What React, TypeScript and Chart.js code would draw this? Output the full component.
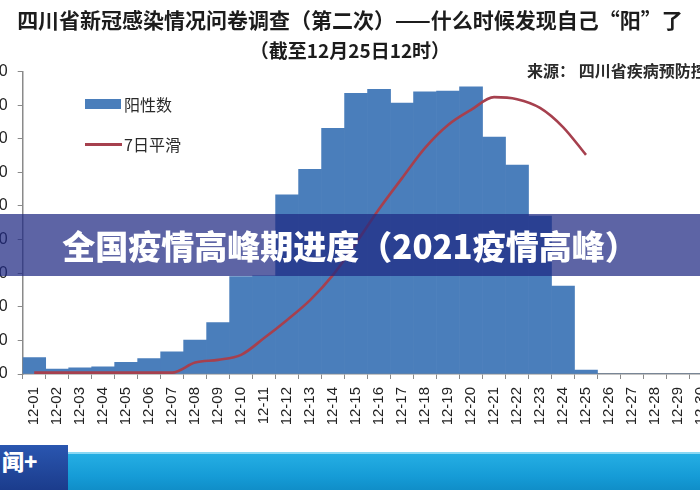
import React, { useEffect, useRef } from "react";
import { Chart, registerables } from "chart.js";

Chart.register(...registerables);

const categories = [
  "12-01", "12-02", "12-03", "12-04", "12-05", "12-06", "12-07", "12-08", "12-09", "12-10",
  "12-11", "12-12", "12-13", "12-14", "12-15", "12-16", "12-17", "12-18", "12-19", "12-20",
  "12-21", "12-22", "12-23", "12-24", "12-25", "12-26", "12-27", "12-28", "12-29", "12-30",
];

// 阳性数 (bars)
const positives = [
  49, 15, 18, 21, 35, 46, 66, 101, 153, 290,
  292, 533, 609, 731, 835, 847, 806, 840, 842, 855,
  705, 622, 470, 262, 12, 0, 0, 0, 0, 0,
];

// 7日平滑 (line)
const smooth7: (number | null)[] = [
  4, 4, 4, 4, 4, 4, 4, 34, 42, 57,
  107, 161, 220, 295, 390, 491, 583, 673, 741, 786,
  824, 818, 792, 735, 652, null, null, null, null, null,
];

const yMax = 900;
const yStep = 100;

const legendLabels = ["阳性数", "7日平滑"];
const titleText = "四川省新冠感染情况问卷调查（第二次）——什么时候发现自己“阳”了";
const subtitleText = "（截至12月25日12时）";
const sourceText = "来源： 四川省疾病预防控制中心";
const bannerText = "全国疫情高峰期进度（2021疫情高峰）";

const BAR_COLOR = "#4a7ebb";
const LINE_COLOR = "#a6404e";
const CJK = '"Noto Sans CJK SC", "Noto Sans", sans-serif';

export default function App() {
  const canvasRef = useRef<HTMLCanvasElement | null>(null);

  useEffect(() => {
    const canvas = canvasRef.current;
    if (!canvas) return;
    const chart = new Chart(canvas, {
      type: "bar",
      data: {
        labels: categories,
        datasets: [
          {
            type: "line",
            label: legendLabels[1],
            data: smooth7,
            borderColor: LINE_COLOR,
            borderWidth: 2.6,
            pointRadius: 0,
            cubicInterpolationMode: "monotone",
            fill: false,
            order: 0,
          },
          {
            type: "bar",
            label: legendLabels[0],
            data: positives,
            backgroundColor: BAR_COLOR,
            borderWidth: 0,
            categoryPercentage: 1,
            barPercentage: 1,
            order: 1,
          },
        ],
      },
      options: {
        responsive: false,
        animation: false,
        devicePixelRatio: 1,
        layout: { padding: { top: 71.6, right: 2.3, bottom: 6, left: 0 } },
        plugins: {
          legend: { display: false },
          tooltip: { enabled: false },
          title: { display: false },
        },
        scales: {
          x: {
            offset: true,
            grid: {
              display: true,
              drawOnChartArea: false,
              drawTicks: true,
              tickLength: 5,
              color: "#8a8a8a",
              offset: true,
            },
            border: { display: true, color: "#8a8a8a", width: 1.5 },
            ticks: {
              autoSkip: false,
              maxRotation: 90,
              minRotation: 90,
              padding: 8,
              color: "#222",
              font: { family: '"Liberation Sans", Arial, sans-serif', size: 15 },
            },
            afterFit: (scale: any) => {
              scale.height = 60;
            },
          },
          y: {
            min: 0,
            max: yMax,
            grid: {
              display: true,
              drawOnChartArea: false,
              drawTicks: true,
              tickLength: 5,
              color: "#8a8a8a",
            },
            border: { display: true, color: "#8a8a8a", width: 1.5 },
            ticks: {
              stepSize: yStep,
              padding: 10,
              color: "#222",
              font: { family: '"Liberation Sans", Arial, sans-serif', size: 16 },
            },
            afterFit: (scale: any) => {
              scale.width = 82.7;
            },
          },
        },
      },
    });
    return () => chart.destroy();
  }, []);

  return (
    <div
      style={{
        position: "fixed",
        left: 0,
        top: 0,
        width: 700,
        height: 490,
        overflow: "hidden",
        background: "#ffffff",
      }}
    >
      <canvas
        ref={canvasRef}
        width={787}
        height={440}
        style={{ position: "absolute", left: -60, top: 0, width: 787, height: 440 }}
      />

      {/* Title */}
      <div
        style={{
          position: "absolute",
          left: 0,
          top: 5,
          width: 700,
          textAlign: "center",
          fontFamily: CJK,
          fontWeight: 700,
          fontSize: 21,
          color: "#1c1c1c",
          whiteSpace: "nowrap",
          lineHeight: "28px",
        }}
      >
        {titleText}
      </div>
      <div
        style={{
          position: "absolute",
          left: 0,
          top: 38,
          width: 700,
          textAlign: "center",
          fontFamily: CJK,
          fontWeight: 700,
          fontSize: 19,
          color: "#1c1c1c",
          whiteSpace: "nowrap",
          lineHeight: "24px",
        }}
      >
        {subtitleText}
      </div>
      <div
        style={{
          position: "absolute",
          left: 527,
          top: 59,
          fontFamily: CJK,
          fontWeight: 700,
          fontSize: 16,
          color: "#2a2a2a",
          whiteSpace: "pre",
          lineHeight: "22px",
        }}
      >
        {sourceText}
      </div>

      {/* Legend */}
      <div style={{ position: "absolute", left: 85, top: 99, width: 36, height: 10, background: BAR_COLOR }} />
      <div
        style={{
          position: "absolute",
          left: 124,
          top: 92,
          fontFamily: CJK,
          fontSize: 16,
          color: "#2a2a2a",
          lineHeight: "24px",
          whiteSpace: "nowrap",
        }}
      >
        {legendLabels[0]}
      </div>
      <div style={{ position: "absolute", left: 85, top: 143, width: 37, height: 3, background: LINE_COLOR }} />
      <div
        style={{
          position: "absolute",
          left: 124,
          top: 132,
          fontFamily: CJK,
          fontSize: 16,
          color: "#2a2a2a",
          lineHeight: "24px",
          whiteSpace: "nowrap",
        }}
      >
        {legendLabels[1]}
      </div>

      {/* Overlay banner */}
      <div
        style={{
          position: "absolute",
          left: 0,
          top: 214,
          width: 700,
          height: 62,
          background: "rgba(30,40,130,0.72)",
          display: "flex",
          alignItems: "center",
          justifyContent: "center",
          fontFamily: CJK,
          fontWeight: 900,
          fontSize: 33,
          color: "#ffffff",
          whiteSpace: "nowrap",
        }}
      >
        {bannerText}
      </div>

      {/* TV ticker strip */}
      <div
        style={{
          position: "absolute",
          left: 0,
          top: 452,
          width: 700,
          height: 38,
          background: "linear-gradient(180deg, #25aee3 0%, #159bd6 60%, #0f8cc6 100%)",
          borderTop: "2px solid #8ad8f4",
        }}
      />
      <div
        style={{
          position: "absolute",
          left: 0,
          top: 445,
          width: 68,
          height: 45,
          background: "linear-gradient(180deg, #2a56b0 0%, #1b3c8c 100%)",
          color: "#ffffff",
          fontFamily: CJK,
          fontWeight: 900,
          fontSize: 22,
          lineHeight: "30px",
          paddingLeft: 2,
          boxSizing: "border-box",
          overflow: "hidden",
          whiteSpace: "nowrap",
        }}
      >
        闻+
      </div>
    </div>
  );
}
